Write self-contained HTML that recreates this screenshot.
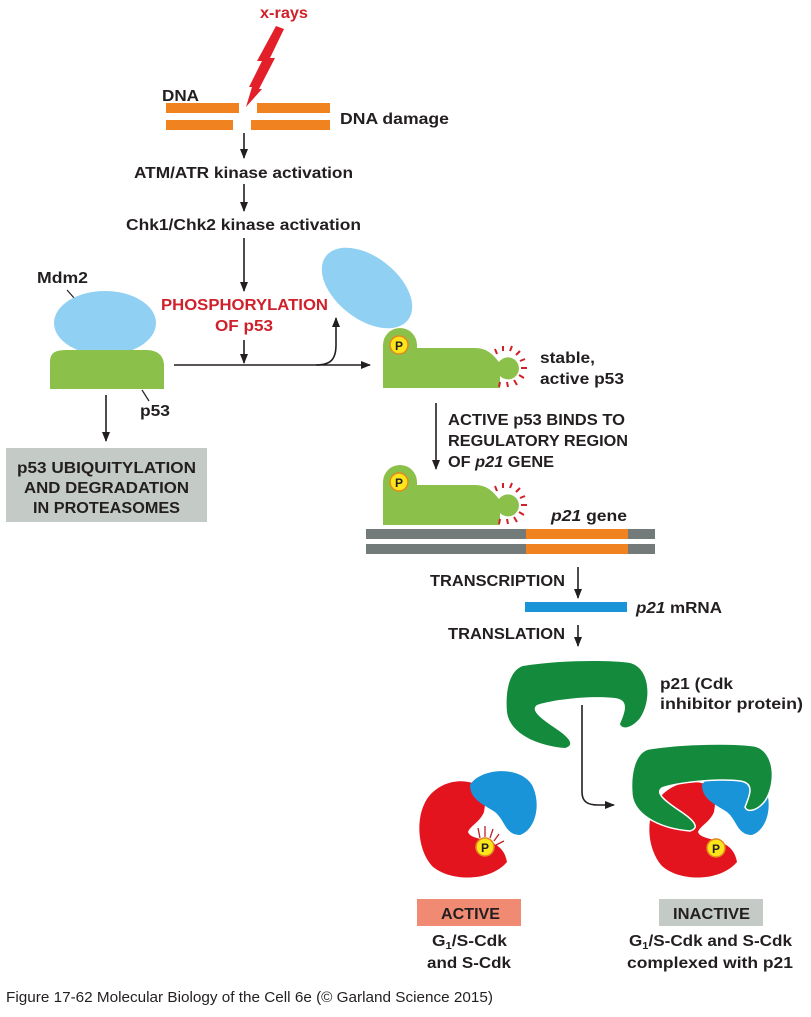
<!DOCTYPE html>
<html><head><meta charset="utf-8"><style>
html,body{margin:0;padding:0;background:#fff}
svg text{font-family:"Liberation Sans",sans-serif;font-weight:bold;font-size:15.5px;fill:#231f20}
</style></head><body>
<svg width="811" height="1012" viewBox="0 0 811 1012" xmlns="http://www.w3.org/2000/svg">
<defs>
<marker id="ah" markerWidth="10" markerHeight="10" refX="9" refY="5" orient="auto" markerUnits="userSpaceOnUse"><path d="M0,1 L10,5 L0,9 Z" fill="#231f20"/></marker>
<g id="p53">
<path d="M383,388 L383,345 A17,17 0 0 1 417,345 L417,348 L475,348 C488,348 494,356 499,362 A11,11 0 1 1 500,376 L500,388 Z" fill="#8bc04a"/>
<circle cx="399" cy="345" r="9" fill="#fde51c" stroke="#e28a1f" stroke-width="1.5"/>
<text x="399" y="350" text-anchor="middle" style="font-size:12px">P</text>
<g stroke="#d0202a" stroke-width="2">
<line x1="497" y1="354" x2="495" y2="349"/><line x1="503" y1="351" x2="503" y2="346"/><line x1="510" y1="351" x2="512" y2="346"/><line x1="516" y1="355" x2="520" y2="351"/><line x1="520" y1="361" x2="525" y2="359"/><line x1="521" y1="368" x2="527" y2="368"/><line x1="519" y1="375" x2="524" y2="378"/><line x1="514" y1="380" x2="517" y2="385"/><line x1="507" y1="382" x2="508" y2="387"/><line x1="500" y1="382" x2="499" y2="387"/>
</g>
</g>
<path id="p21" d="M523,666 C560,660 610,660 630,663 C650,668 652,700 640,718 C632,728 622,730 620,724 C625,712 630,700 615,698 C590,695 550,700 537,705 C530,710 540,718 555,728 C570,738 575,745 565,748 C540,746 510,735 507,712 C505,690 510,670 523,666 Z"/>
</defs>

<text x="260" y="18" style="fill:#d0202a" textLength="48" lengthAdjust="spacingAndGlyphs">x-rays</text>
<path d="M276,26 L284,29 L270,58 L275,58 L259,89 L262,89 L246,107 L252,87 L249,87 L262,61 L257,61 Z" fill="#e3202a"/>
<text x="162" y="101" textLength="37" lengthAdjust="spacingAndGlyphs">DNA</text>
<g fill="#f0831f">
<rect x="166" y="103" width="73" height="10"/><rect x="257" y="103" width="73" height="10"/>
<rect x="166" y="120" width="67" height="10"/><rect x="251" y="120" width="79" height="10"/>
</g>
<text x="340" y="124" textLength="109" lengthAdjust="spacingAndGlyphs">DNA damage</text>
<g stroke="#231f20" stroke-width="1.6" fill="none" marker-end="url(#ah)">
<line x1="244" y1="133" x2="244" y2="158"/>
<line x1="244" y1="184" x2="244" y2="211"/>
<line x1="244" y1="238" x2="244" y2="291"/>
<line x1="244" y1="340" x2="244" y2="363"/>
<line x1="174" y1="365" x2="370" y2="365"/>
<path d="M316,365 C330,365 336,360 336,345 L336,318"/>
<line x1="106" y1="395" x2="106" y2="441"/>
<line x1="436" y1="403" x2="436" y2="469"/>
<line x1="578" y1="567" x2="578" y2="598"/>
<line x1="578" y1="625" x2="578" y2="646"/>
<path d="M582,705 L582,792 C582,802 588,805 598,805 L614,805"/>
</g>
<text x="134" y="178" textLength="219" lengthAdjust="spacingAndGlyphs">ATM/ATR kinase activation</text>
<text x="126" y="230" textLength="235" lengthAdjust="spacingAndGlyphs">Chk1/Chk2 kinase activation</text>
<text x="161" y="310" style="fill:#d0202a" textLength="167" lengthAdjust="spacingAndGlyphs">PHOSPHORYLATION</text>
<text x="215" y="331" style="fill:#d0202a" textLength="58" lengthAdjust="spacingAndGlyphs">OF p53</text>

<text x="37" y="283" textLength="51" lengthAdjust="spacingAndGlyphs">Mdm2</text>
<line x1="67" y1="290" x2="75" y2="299" stroke="#231f20" stroke-width="1.2"/>
<ellipse cx="105" cy="323" rx="51" ry="32" fill="#90d0f3"/>
<path d="M50,389 L50,362 C50,352 56,350 68,350 L146,350 C158,350 164,356 164,366 L164,389 Z" fill="#8bc04a"/>
<line x1="142" y1="390" x2="149" y2="401" stroke="#231f20" stroke-width="1.2"/>
<text x="140" y="416" textLength="30" lengthAdjust="spacingAndGlyphs">p53</text>
<rect x="6" y="448" width="201" height="74" fill="#c4cac6"/>
<text x="17" y="473" textLength="179" lengthAdjust="spacingAndGlyphs">p53 UBIQUITYLATION</text>
<text x="24" y="493" textLength="165" lengthAdjust="spacingAndGlyphs">AND DEGRADATION</text>
<text x="33" y="513" textLength="147" lengthAdjust="spacingAndGlyphs">IN PROTEASOMES</text>

<ellipse cx="367" cy="288" rx="52" ry="31" transform="rotate(38 367 288)" fill="#90d0f3"/>
<use href="#p53"/>
<text x="540" y="363" textLength="55" lengthAdjust="spacingAndGlyphs">stable,</text>
<text x="540" y="384" textLength="84" lengthAdjust="spacingAndGlyphs">active p53</text>
<text x="448" y="425" textLength="177" lengthAdjust="spacingAndGlyphs">ACTIVE p53 BINDS TO</text>
<text x="448" y="446" textLength="180" lengthAdjust="spacingAndGlyphs">REGULATORY REGION</text>
<text x="448" y="467" textLength="106" lengthAdjust="spacingAndGlyphs">OF <tspan font-style="italic">p21</tspan> GENE</text>
<use href="#p53" transform="translate(0,137)"/>
<text x="551" y="521" textLength="76" lengthAdjust="spacingAndGlyphs"><tspan font-style="italic">p21</tspan> gene</text>
<g fill="#737b7a"><rect x="366" y="529" width="289" height="10"/><rect x="366" y="544" width="289" height="10"/></g>
<g fill="#f0831f"><rect x="526" y="529" width="102" height="10"/><rect x="526" y="544" width="102" height="10"/></g>
<text x="430" y="586" textLength="135" lengthAdjust="spacingAndGlyphs">TRANSCRIPTION</text>
<rect x="525" y="602" width="102" height="10" fill="#1a94d8"/>
<text x="636" y="613" textLength="86" lengthAdjust="spacingAndGlyphs"><tspan font-style="italic">p21</tspan> mRNA</text>
<text x="448" y="639" textLength="117" lengthAdjust="spacingAndGlyphs">TRANSLATION</text>

<use href="#p21" fill="#138a3c"/>
<text x="660" y="689" textLength="73" lengthAdjust="spacingAndGlyphs">p21 (Cdk</text>
<text x="660" y="709" textLength="143" lengthAdjust="spacingAndGlyphs">inhibitor protein)</text>

<path d="M482,788 C470,778 445,778 430,795 C415,812 416,848 432,866 C450,882 490,882 507,862 C505,850 498,845 490,842 C480,838 470,838 468,832 C470,826 480,822 484,812 C486,800 486,792 482,788 Z" fill="#e3141d"/>
<path d="M470,785 C480,768 520,765 532,785 C542,805 535,830 520,835 C505,835 505,820 495,812 C485,805 470,800 470,785 Z" fill="#1a94d8"/>
<g stroke="#c0202a" stroke-width="1.3"><line x1="480" y1="838" x2="478" y2="828"/><line x1="485" y1="837" x2="485" y2="826"/><line x1="490" y1="838" x2="493" y2="829"/><line x1="494" y1="841" x2="499" y2="834"/><line x1="496" y1="845" x2="504" y2="841"/></g>
<circle cx="485" cy="847" r="9" fill="#fde51c" stroke="#e28a1f" stroke-width="1.5"/>
<text x="485" y="852" text-anchor="middle" style="font-size:12px">P</text>

<path d="M712,788 C700,778 675,780 660,797 C645,814 646,848 662,866 C680,882 720,882 737,862 C735,850 728,845 720,842 C710,838 700,838 698,832 C700,826 710,822 714,812 C716,800 716,792 712,788 Z" fill="#e3141d"/>
<path d="M702,785 C712,768 752,765 764,785 C774,805 767,830 752,835 C737,835 737,820 727,812 C717,805 702,800 702,785 Z" fill="#1a94d8"/>
<use href="#p21" transform="translate(125,83)" fill="#138a3c" stroke="#fff" stroke-width="1.5"/>
<circle cx="716" cy="848" r="9" fill="#fde51c" stroke="#e28a1f" stroke-width="1.5"/>
<text x="716" y="853" text-anchor="middle" style="font-size:12px">P</text>

<rect x="417" y="899" width="104" height="27" fill="#f08a72"/>
<text x="441" y="919" textLength="59" lengthAdjust="spacingAndGlyphs">ACTIVE</text>
<text x="432" y="946" textLength="75" lengthAdjust="spacingAndGlyphs">G<tspan style="font-size:10px" dy="3">1</tspan><tspan dy="-3">/S-Cdk</tspan></text>
<text x="427" y="968" textLength="84" lengthAdjust="spacingAndGlyphs">and S-Cdk</text>
<rect x="659" y="899" width="104" height="27" fill="#c4cac6"/>
<text x="673" y="919" textLength="77" lengthAdjust="spacingAndGlyphs">INACTIVE</text>
<text x="629" y="946" textLength="163" lengthAdjust="spacingAndGlyphs">G<tspan style="font-size:10px" dy="3">1</tspan><tspan dy="-3">/S-Cdk and S-Cdk</tspan></text>
<text x="627" y="968" textLength="166" lengthAdjust="spacingAndGlyphs">complexed with p21</text>

<text x="6" y="1002" style="font-weight:normal;font-size:15px" textLength="487" lengthAdjust="spacingAndGlyphs">Figure 17-62  Molecular Biology of the Cell 6e (© Garland Science 2015)</text>
</svg>
</body></html>
